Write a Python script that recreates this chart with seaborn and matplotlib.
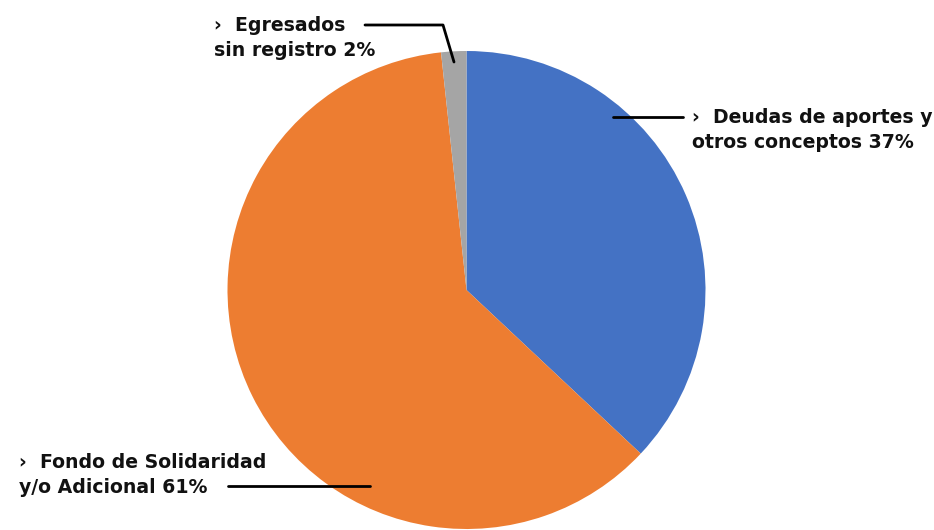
import matplotlib
matplotlib.use("Agg")
import matplotlib.pyplot as plt
import seaborn as sns

sns.set_theme(style="white")
plt.rcParams['font.family'] = ['DejaVu Sans']

categories = ["Deudas de aportes y\notros conceptos", "Fondo de Solidaridad\ny/o Adicional", "Egresados\nsin registro"]
values = [37.0, 61.3, 1.7]
pct_labels = ["37%", "61%", "2%"]
colors = ["#4472C4", "#ED7D31", "#A5A5A5"]

W, H = 934, 530
fig = plt.figure(figsize=(W / 100, H / 100), dpi=100)
ax = fig.add_axes([0, 0, 1, 1])

cx, cy, r = 466.5, H - 290, 239
ax.pie(values, colors=colors, startangle=90, counterclock=False,
       center=(cx, cy), radius=r, wedgeprops=dict(linewidth=0))
ax.set_xlim(0, W)
ax.set_ylim(0, H)
ax.set_aspect('auto')
ax.axis('off')

def y(px):
    return H - px

txt = dict(fontsize=13.6, fontweight='bold', color='#111111', va='center', ha='left', linespacing=1.35)

# Egresados
first, second = categories[2].split("\n")
ax.text(214, y(38), f"›  {first}\n{second} {pct_labels[2]}", **txt)
ax.plot([365, 443, 454], [y(25), y(25), y(62)], color='black', lw=2)

# Deudas
first, second = categories[0].split("\n")
ax.text(692, y(130), f"›  {first}\n{second} {pct_labels[0]}", **txt)
ax.plot([613, 683], [y(117), y(117)], color='black', lw=2)

# Fondo
first, second = categories[1].split("\n")
ax.text(19, y(475), f"›  {first}\n{second} {pct_labels[1]}", **txt)
ax.plot([228, 370], [y(486), y(486)], color='black', lw=2)

fig.savefig("out.png", dpi=100)
